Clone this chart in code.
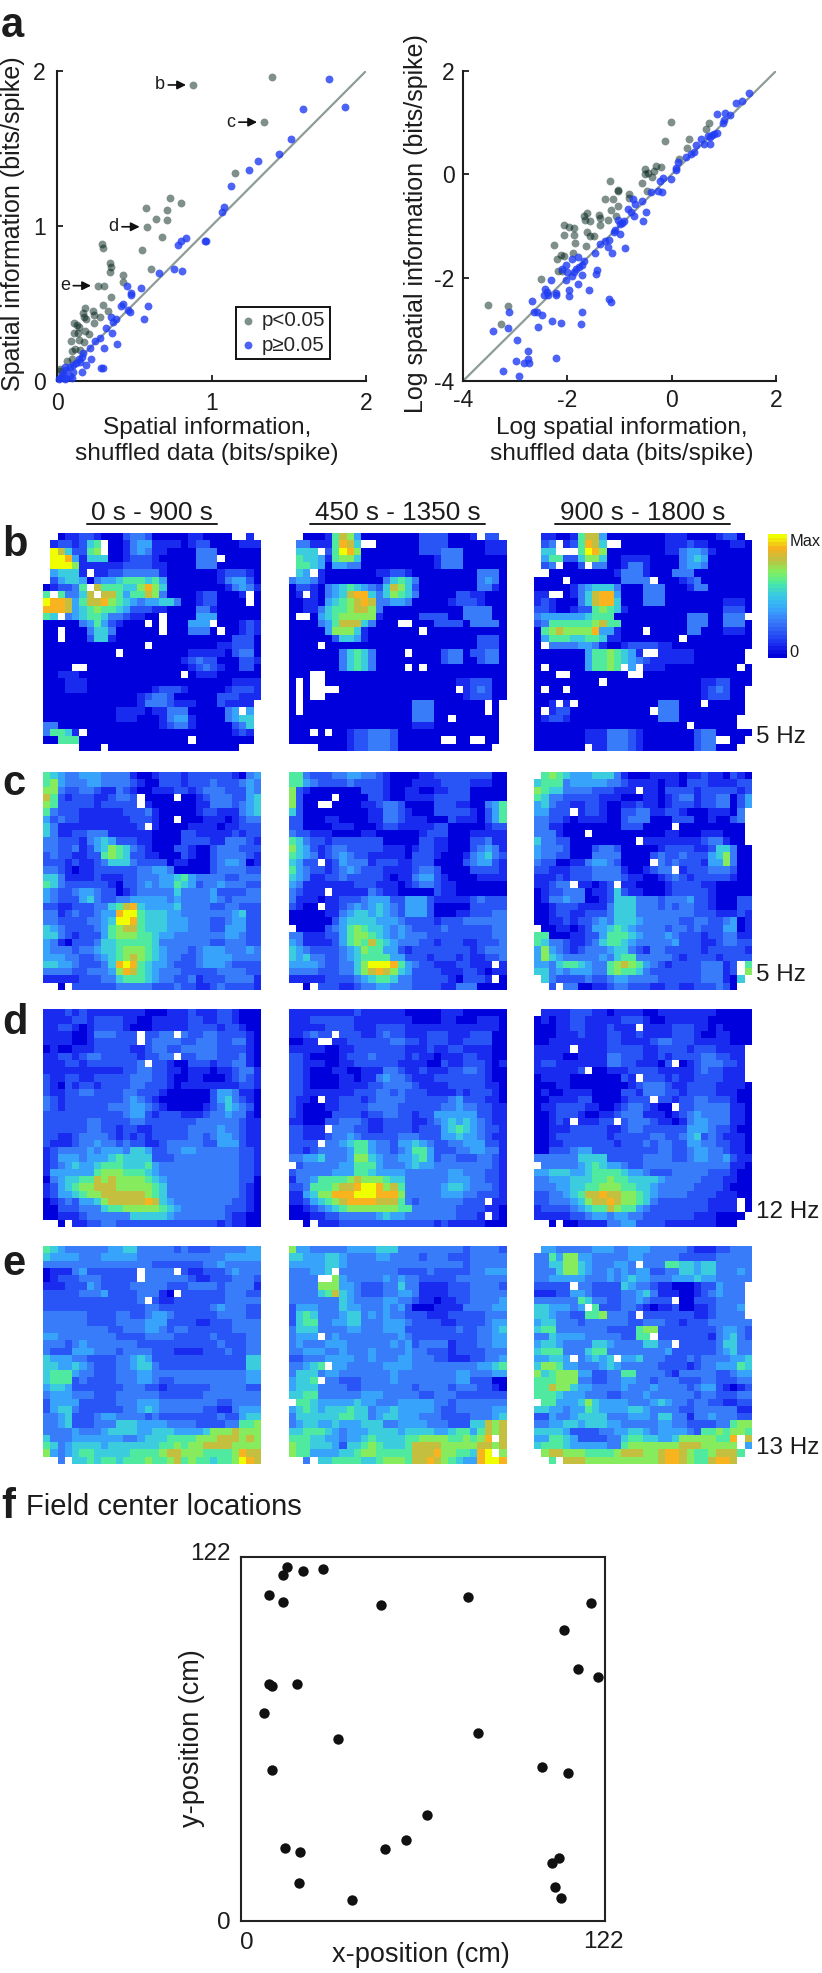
import numpy as np, pandas as pd, matplotlib
matplotlib.use('Agg')
import matplotlib.pyplot as plt, seaborn as sns
from matplotlib.colors import LinearSegmentedColormap
from matplotlib.lines import Line2D
from matplotlib.transforms import Affine2D

# ---------- data: panel a, linear ----------
a1_sig_x = [.88,1.39,1.34,1.15,.73,.80,.575,.71,.64,.71,.58,.68,.55,.61,.29,.30,.345,.35,.34,.425,.425,.265,.305,.35,.295,.33,.18,.17,.23,.24,.28,.175,.19,.24,.11,.13,.14,.11,.135,.18,.205,.09,.14,.175,.095,.115,.15,.065,.095,.02,.02]
a1_sig_y = [1.91,1.96,1.67,1.34,1.18,1.15,1.115,1.10,1.045,1.04,.995,.93,.845,.72,.885,.86,.76,.735,.70,.685,.64,.615,.615,.54,.49,.45,.47,.44,.45,.425,.41,.41,.40,.375,.375,.36,.35,.31,.31,.32,.305,.255,.265,.25,.195,.205,.20,.13,.145,.08,.065]
a1_ns_x = [1.76,1.59,1.865,1.515,1.435,1.30,1.245,1.125,1.08,1.07,.96,.965,.835,.80,.78,.66,.755,.81,.545,.455,.48,.48,.425,.415,.46,.59,.475,.565,.35,.38,.365,.32,.355,.39,.28,.245,.215,.305,.17,.16,.14,.22,.19,.285,.295,.16,.105,.085,.05,.06,.105,.04,.085,.02,.05,.095,.01,.15,.12,.03,.06]
a1_ns_y = [1.95,1.755,1.77,1.56,1.465,1.42,1.36,1.26,1.125,1.09,.905,.905,.92,.90,.88,.695,.72,.71,.60,.61,.57,.555,.495,.485,.46,.485,.445,.40,.415,.40,.38,.34,.31,.24,.28,.26,.215,.215,.18,.155,.145,.145,.105,.085,.085,.06,.10,.09,.09,.07,.055,.05,.03,.02,.015,.02,.01,.125,.115,.03,.02]
# ---------- data: panel a, log ----------
a2_sig_x = [-.01,-.12,.71,.65,.33,.30,.15,-.2,-.3,-.34,-.38,-.45,-.52,-.52,-.57,-.48,-1.18,-1.02,-1.03,-.82,-.82,-1.28,-1.13,-1.02,-1.17,-1.06,-1.39,-1.37,-1.37,-1.22,-1.62,-1.68,-1.66,-1.56,-1.63,-1.56,-1.48,-1.65,-2.07,-1.96,-1.87,-2.07,-1.87,-1.86,-1.89,-2.25,-2.12,-2.07,-2.19,-2.17,-2.11,-2.5,-3.53,-3.13,-3.28]
a2_sig_y = [1.02,.65,1.0,.87,.675,.515,.29,.15,.17,.07,-.06,.03,.11,.01,-.17,-.33,-.13,-.30,-.33,-.38,-.45,-.48,-.48,-.62,-.70,-.80,-.79,-.84,-.98,-.88,-.75,-.80,-.89,-.91,-1.12,-1.19,-1.19,-1.38,-.98,-1.02,-1.04,-1.18,-1.18,-1.33,-1.52,-1.37,-1.56,-1.59,-1.64,-1.87,-1.87,-2.03,-2.52,-2.55,-2.89]
a2_ns_x = [1.49,1.35,1.24,1.11,1.03,.86,1.0,.98,.87,.82,.78,.74,.69,.73,.62,.56,.46,.42,.37,.27,.12,.08,.08,-.02,-.16,-.23,-.19,-.27,-.39,-.57,-.7,-.75,-.83,-.78,-.72,-.5,-.55,-.91,-.96,-1.02,-1.0,-1.08,-1.11,-1.0,-1.21,-1.27,-1.37,-1.22,-.9,-1.14,-1.47,-1.91,-1.8,-1.68,-1.71,-1.77,-1.84,-1.87,-2.02,-2.11,-2.0,-1.91,-1.72,-1.44,-1.45,-2.02,-2.31,-1.79,-1.59,-1.97,-1.96,-2.21,-2.21,-2.43,-2.39,-2.37,-2.44,-2.67,-1.2,-1.17,-3.12,-2.64,-2.59,-2.49,-1.72,-1.73,-2.12,-2.3,-2.57,-3.13,-3.43,-2.97,-2.75,-2.21,-2.75,-2.98,-2.84,-2.73,-3.24,-2.93]
a2_ns_y = [1.58,1.42,1.38,1.14,1.18,1.16,1.06,1.0,.80,.79,.76,.73,.74,.59,.58,.68,.57,.44,.39,.34,.23,.12,.08,-.10,-.08,-.12,-.34,-.33,-.35,-.51,-.57,-.48,-.68,-.73,-.8,-.72,-.9,-.9,-.94,-.88,-.96,-1.07,-1.12,-1.16,-1.27,-1.3,-1.35,-1.4,-1.43,-1.52,-1.52,-1.63,-1.6,-1.68,-1.75,-1.8,-1.84,-1.9,-1.76,-1.83,-1.9,-1.97,-1.94,-1.85,-1.93,-2.04,-2.04,-2.12,-2.23,-2.24,-2.35,-2.29,-2.34,-2.22,-2.28,-2.33,-2.33,-2.46,-2.42,-2.47,-2.66,-2.66,-2.66,-2.72,-2.67,-2.9,-2.88,-2.84,-2.96,-2.97,-3.04,-3.21,-3.42,-3.55,-3.57,-3.62,-3.65,-3.65,-3.81,-3.9]
annot_labels = ['b','c','d','e']
annot_x = [.88,1.34,.58,.265]
annot_y = [1.91,1.67,.995,.615]
# ---------- data: panel f ----------
f_x = [15.5,14.2,20.9,27.4,9.3,14.1,46.9,76,117.3,108.4,113,119.8,9.5,10.4,18.8,7.7,32.6,79.6,10.4,100.8,109.5,62.2,55.2,48.1,14.6,19.9,106.5,104.4,19.3,105.1,107.2,37.3]
f_y = [118.7,116,117.3,118,109.2,107,106,108.5,106.6,97.4,84.6,81.7,79.6,78.6,79.3,69.7,61.1,62.9,50.7,51.6,49.5,35.6,27,24.1,24.4,23.2,21.1,19.3,12.7,11.3,7.7,7]
# ---------- data: firing-rate maps, 0..a = fraction of max in tenths, . = unvisited ----------
b1 = ["..011 22100 02332 00000 11000 0..1.",".1221 256.0 01344 11110 12200 00111",".a852 267.0 01343 11000 03330 00000",".aa94 15550 01222 10000 0333. 00000",".aaa7 11111 12222 11000 03330 00000",".4555 1.112 23333 31000 00001 22210",".2455 40344 56665 64000 00001 34420","01223 6.866 65579 75000 00000 13431","6.633 58.88 64668 73000 01220 001.0","a9984 68897 65434 45530 01220 000.0",
"99984 56766 54222 11000 03310 00000","65.34 56653 32110 0.000 04440 00000","00000 34642 1000. 0.000 444.0 00121","00.00 03553 00000 0.000 3330. 00121","00.00 02551 00000 00000 00000 02220","00000 00000 0000. 00000 00001 12220","00000 00000 .0000 00000 11111 02330","00000 00000 00000 00001 23220 00221","0000. .0000 00000 00000 12321 00220","00111 00000 00000 0000. 01110 00000",
"00011 10000 00000 00000 00000 01111","00011 10000 00000 12221 00000 12221","00000 00000 00012 33200 00002 22111","00000 00000 00013 33211 10002 1111.","00000 00000 11110 11333 00000 34.4.","00000 00000 11100 01344 10000 3455.","33000 00000 00000 01233 10000 0235.","36651 .0000 00000 00000 00000 0121.","00666 00000 00000 00000 .0000 0000.","..... 000.0 00000 00000 00000 00..."]
b2 = ["..000 16874 00000 00022 22000 1.22.",".3311 16985 ..000 00022 22000 00111",".555. 26a97 00000 00022 23330 00111",".6554 16775 00000 00000 13330 00000",".6654 04433 00000 00000 13330 00000",".54.1 00000 00112 21000 00000 03330","34431 00000 00035 65300 00000 03430","02210 34565 43258 75200 00000 03310","01.10 34589 95357 65300 00022 11000","00110 45678 98334 43000 00122 21000",
"00113 56678 87300 00000 00003 33300","0..04 56777 77100 00022 22003 33300","00003 46888 53000 ..000 22220 33330","00000 47775 10000 000.0 00000 00000","00000 02554 10000 00000 00000 02220","0000. 00000 00000 00000 00000 02220","00000 00356 53000 0.000 02330 22330","00000 00356 53000 00000 02330 02330","00000 00356 53000 0.0.0 00000 00000","000.. 00000 00000 00000 00000 00000",
"0.0.. 00000 00000 00000 00011 22200","0.0.. ..000 00000 00000 000.1 23200","0.0.. 00000 00000 00000 00001 22200","0.000 00000 00000 00333 00000 00.0.","0.000 00000 00000 00333 00000 00.0.","00000 00000 00000 00333 00.00 0000.","00000 00000 00000 00111 00000 0000.","000.0 .0012 23332 00000 00000 0000.","00000 00012 23332 00000 0..00 ..00.","....0 00012 23332 00000 00000 000.."]
b3 = [".1100 16884 00000 00011 10000 1220.",".23.1 26985 ..000 00011 12110 00110",".55.. .6a97 00000 00011 34431 00000",".4662 25775 00111 10000 34540 00000",".23.0 02.33 00133 10000 34430 00000","..000 00000 01333 10003 33000 00000","0000. 00000 00333 3.000 12300 00000","00000 13455 53000 33300 01330 00000","11..0 13589 94000 33300 00000 00000","12100 03589 95000 33300 00000 01110",
"22100 12267 65100 00000 00000 02220","34444 44566 60000 00000 03330 0333.","23666 66678 66000 00000 03330 03330","06787 77794 41000 .0000 03300 01110","04666 55665 11000 00000 .0000 00000","0.333 34431 00122 22110 00000 00000","00000 00466 76541 ..111 11000 0000.","00000 00466 76543 21111 11000 0000.","0.000 00466 76.4. 11100 00000 000.0","000.. 00000 000.. 00000 00000 00000",
"00000 0000. 00000 00000 00011 22000","0.00. 00000 00000 00000 00012 3200.","00000 00000 00000 00000 00012 2200.","001.1 .0000 00000 00333 000.0 0000.","0.122 00000 00000 0.333 00000 0000.","01221 00000 00000 00333 00000 000..","00000 00000 00000 00000 0.000 000..","00000 00111 33321 00000 00233 00000","00000 00111 33321 00000 00233 ..00.","00000 00.11 33321 00000 00233 000.."]
c1 = ["65433 44433 33100 12221 22222 21034","67433 34433 33210 02221 22232 22343","77322 33211 32100 11122 12333 22243","86212 22112 332.0 000.0 01233 32245","76222 22122 222.1 00000 01133 32345","63222 11111 12223 10000 01221 11345","42322 11111 11222 100.0 00111 01233","53111 11111 1112. 10000 11110 11222","53112 23331 11111 00002 21111 12122","33222 13454 22211 00002 22211 33321",
"33223 12457 65321 00022 10023 33222","23221 12267 65221 10002 10023 33321","22212 11235 55322 22011 00023 44301","33210 11222 22233 44300 00023 33322","55311 11211 12233 34456 43333 22333","65322 22221 02234 34465 42334 33322","43223 44322 01233 33353 33342 22233","43222 45322 33444 44343 33343 23333","22112 22335 68954 44453 33322 33222","33123 22344 9aa65 55443 33333 34522",
"33222 23345 aa965 55444 33322 34422","54322 22346 78865 55444 33322 44422","55321 22246 77766 54433 33333 44322","43102 22355 66666 53333 33322 33322","43332 33455 67776 54333 23444 33343","44433 22345 67876 54332 23444 43333","55443 22235 9a965 44322 23444 32222","33332 23334 79865 43332 22223 33322","11111 22233 56665 43322 31222 33331","..0.2 22222 33333 22232 21123 22221"]
c2 = ["66322 23344 33210 00011 22222 22200","66432 22232 22210 00111 12222 11100","72100 00000 22210 01100 11222 00000","72000 0.000 02210 01111 22222 00000","7200. .0000 11233 20000 22211 00346","52000 00000 01133 21000 22222 10246","22000 11000 01133 21110 00211 10246","22000 01110 00122 11111 22000 00122","32211 10000 11000 00012 22000 11111","65322 12222 22200 00022 11000 22311",
"75421 23322 22211 10122 11000 23431","65431 23432 21111 10222 10001 34532","5422. 12433 31222 11222 00002 34421","64322 12343 22211 11233 20000 22221","54311 22322 22210 11344 21000 01111","43111 11112 22111 01233 21100 00000","32111 .1111 13211 00000 21100 00000","31110 11222 34442 24442 11111 23222","2100. 11234 34543 24442 00000 22222","00000 11345 54543 24442 00011 22233",
"00000 02455 55444 32222 12223 33333",".0000 23467 65543 43222 23222 22233","33111 22467 76543 43332 22222 22233","43111 12467 68654 33322 12221 12223","54322 22345 76644 21222 22222 12333","54533 22345 66664 42221 22212 11223","44443 22335 7aaa9 64322 11122 111.1","33332 22335 78987 54222 21112 21011","11111 22223 45665 33222 22102 221.0","..0.2 22112 33443 33222 21133 30000"]
c3 = [".6765 44455 53100 01111 01121 10210","56663 44444 33211 11011 02221 11122","76553 33322 2111. 11022 22122 22212","65332 22221 11000 11012 33122 33024","45322 11221 00112 11012 22122 33024","44222 .1221 00223 31122 10001 1103.","33221 01111 00233 30002 22001 0023.","33110 00000 00222 0000. 00000 0000.","33310 00.00 00000 00011 00011 1000.","53322 00000 0000. 11111 11123 3100.",
"43332 00023 32000 00122 22112 55300","43322 00033 33000 02322 32224 57300","32200 11344 32000 0.323 22214 47300","22111 22233 33100 1233. 12223 33200","11121 22233 33211 00123 21222 22100","11233 .1101 2.110 00012 22211 00000","01223 33011 25211 00012 22221 00000","01334 33001 25553 33233 34221 00022","00122 21111 35553 33232 33221 00022","00122 11222 35553 33333 33222 11121",
"00112 12234 35554 33333 22332 23401",".0011 01244 56543 33323 32322 24401","66000 11224 66654 33343 22212 23311","65332 11235 66543 33334 22211 23322","47432 12333 45532 13322 22212 22221","47543 33334 35663 33332 12222 12222","44356 65433 67876 43212 22233 312.6","55343 44433 67665 32222 22233 312.7",".5322 22322 34433 33222 22233 3105.","..2.3 30011 23322 21122 11222 320.."]
d1 = ["11121 21111 11110 00111 21112 21000","11112 21222 21100 11111 22112 21000","11221 01222 21000 11111 22221 22100","11110 01333 222.2 233.3 22332 22210","11110 01222 222.2 33332 23332 23310","01001 11222 22112 33223 33332 22210","11221 23322 22212 233.2 23332 22310","11122 12222 2223. 22100 22212 23310","11111 11111 12233 22110 11101 12331","21122 11222 22333 22100 11000 12321",
"21021 22122 22332 22101 11111 11221","21122 33222 23322 21000 00024 43110","32122 22222 23432 10000 00024 53210","32122 22223 33443 21000 00123 54320","22222 22222 23442 12221 11233 43310","22222 23322 22332 22222 23333 33211","22222 23322 12211 22222 33334 33211","22112 33332 12121 22222 33234 43211","21112 33433 23221 12333 33224 44211","12333 34344 43554 22334 43333 33221",
"12444 34445 65555 22233 33333 33221","12345 44566 65556 43333 33333 33221","14444 44677 76665 43333 33333 33221","03455 66878 77776 54333 33333 33220","12456 77888 77777 65333 33333 33210","12445 67788 88887 65333 33333 33210","01232 44578 88889 85433 33333 32210","00222 33356 67777 76543 33333 22210","00111 23333 33555 55433 33333 21100","..0.1 12233 22222 22222 22221 21100"]
d2 = ["11111 11112 11111 10000 01110 00000","11122 22221 11111 11000 01100 01110","11111 22221 11222 21111 11111 11110","11232 2.222 11232 21112 22111 22200","0011. .1122 22223 32212 22112 22200","11111 00112 22222 21112 11221 11100","22100 00122 23222 21211 01112 21100","22111 00112 22222 11110 02112 22101","22100 01100 11133 21121 11223 32100","22100 00110 11343 32111 22222 22100",
"22100 00111 12233 33211 11222 22110","22111 11112 22332 32221 11121 22210","2110. 11222 12333 32222 22342 22110","21000 11222 23333 22222 23343 32211","21000 02222 12233 22122 44444 42211","11000 22333 21122 22112 34545 43211","22111 .3332 21122 22122 24565 43221","22111 23343 22222 33322 24454 43211","2222. 33456 64332 44543 22334 44221","22123 33346 64332 34664 22233 44331",
"33445 33347 75433 44564 23322 23321",".2333 33446 66433 34544 33333 33321","23333 34446 65444 43333 33443 33221","13346 66678 77765 53333 33444 33221","22366 67889 aa978 63333 34554 33321","11457 7999a aa999 73333 34443 32221","11245 67899 99888 63233 33332 22.11","00123 45677 77777 66333 33322 22110","00011 22333 33454 43333 33322 21.10","..0.1 11222 22222 22222 12111 11000"]
d3 = [".1111 22211 01111 00111 11111 00000","01011 22111 11222 10011 11110 00000","00011 22111 2111. 11112 22110 10000","00011 12111 22112 11112 22100 11000","00111 11111 22111 12332 22111 11000","11111 .1111 22222 11222 21222 1111.","11110 01111 33222 11212 22233 2211.","12211 11111 33221 1102. 01233 3221.","11111 12.00 11122 22111 11232 2111.","01111 00000 0021. 22212 11222 2111.",
"00011 00000 00012 33321 12222 11110","01001 11100 00221 33322 12222 11100","00111 12200 00122 2.221 22332 22100","01122 22110 01233 2100. 22333 33110","00122 21001 12333 11101 23433 33110","00121 .1112 2.233 32110 13443 33110","00111 22222 11233 22222 24443 22100","00122 22222 12222 23322 34523 21110","00112 22222 21222 32332 24433 22110","00222 34422 22222 22332 23443 32110",
"33333 35555 22222 33332 23443 34211",".3333 34565 44322 33333 33333 33110","44555 44566 66544 32223 33332 22100","33444 55566 76655 55433 33322 21100","33344 55667 77665 54333 33222 21000","22334 56889 88776 54333 32222 11100","22333 45788 98776 53222 22221 111.0","12222 34566 87664 32222 22221 111.0","11111 22344 34433 22222 22111 0000.","..0.0 01111 33442 22211 11111 000.."]
e1 = ["65433 33334 45533 33323 22233 33344","54444 33344 44433 33333 33333 44444","33333 33333 33333 22222 22334 33333","01113 42222 222.3 333.2 11222 34333","01222 33322 222.3 33333 21122 23332","11122 24322 22333 33222 33332 33331","22222 33342 22233 310.2 22222 33322","22222 22222 2223. 21122 22222 33333","22222 22222 22223 32222 22234 33322","33333 32222 33223 44322 22223 33322",
"33333 32222 33334 44222 21122 23333","33333 33332 23334 43233 22222 23333","44333 33333 22223 33322 22232 22233","33323 43333 33322 22222 22223 22233","32224 44333 23333 22211 11222 32233","54443 32222 33454 22222 22222 22255","55445 43222 33455 32222 22222 22255","56664 33222 33344 33333 33333 33344","56662 32222 33344 32233 33333 33344","45542 22222 23332 21222 22233 33322",
"34443 33222 33333 32222 22333 33333","24444 22222 33344 43333 33332 23333","24553 22222 23345 43333 33221 13444","33452 22344 33332 32222 22223 22455","33452 22333 55544 44333 32222 33667","33334 33345 55544 55544 44577 78777","53334 44444 43345 55666 67778 88787","65345 55545 55555 56676 77888 87777","74345 66555 55666 67887 77666 67988","..3.5 56566 56667 66786 76656 67a98"]
e2 = ["74433 33344 44555 33333 33332 33332","55444 55433 33443 33323 33222 33333","44444 55433 33333 33333 33332 33333","33344 5.333 33333 22223 22222 33444","3333. .7433 33343 43322 22233 33333","33337 77443 22233 53311 11222 33332","33335 68543 22233 44311 11222 33333","33333 33543 33344 33211 01122 33334","24443 33544 33343 42000 11113 33344","25653 33455 34343 32221 11222 22333",
"25663 34455 33344 43222 21122 22344","35553 33344 33344 42222 22232 23345","3444. 34333 33333 43222 22222 23344","34333 44433 33334 34233 33122 23344","33444 33433 34333 34332 22122 22333","22333 44443 34333 44333 22111 22334","33456 .4433 33344 44333 33333 34456","35553 44333 33334 33333 33344 33344","4556. 33222 33334 33333 33344 22200","45553 33322 33333 33233 33233 32210",
"55663 33333 44433 33322 33322 22222",".6654 44445 44333 44444 33233 33333","45654 55565 53445 44444 32233 33344","35555 55665 53455 44433 32222 33345","34554 45444 55533 44443 33222 55878","55666 54344 45555 45555 44566 46878","66655 44344 56555 56677 77667 679.8","76655 54255 67655 56888 87777 78878","76644 44556 77666 66888 97766 59a.7","..3.5 56666 55677 76889 87654 49aa9"]
e3 = [".4433 33344 43344 43333 32111 22333","33647 74433 33344 33333 22222 33333","33557 75433 3443. 33366 55455 33333","33357 75433 43434 42233 55455 33343","33444 44333 43454 43334 44544 33333","22222 .3322 22543 32110 00122 4333.","11122 44322 22334 53111 00123 4333.","33333 36533 22334 3222. 00222 3333.","55444 34.62 22332 10112 00112 3334.","55433 22667 3332. 22222 22112 3333.",
"45533 32333 33322 33322 12223 33333","56633 33333 22226 77222 22222 34432","33544 44333 33226 6.222 22221 34532","45543 33355 43333 5533. 22222 35533","56663 33566 33333 33342 22222 34533","44554 .3454 5.445 33322 23233 33445","57764 43334 54333 33222 21233 44465","75677 74422 33663 33321 33333 22344","66677 73322 33443 32333 22233 22233","66877 54433 33433 34333 32344 21012",
"66654 44333 22333 43333 33233 22233",".6644 45754 44433 34543 32332 21122","55443 44654 44455 43333 22333 33311","22433 45555 33344 43553 31334 33322","33445 54555 44333 33443 32222 33677","55554 22223 34455 43444 43266 76776","44665 42222 33566 55445 77777 669.8","56665 44444 33677 77777 88877 777.4",".7887 77666 67888 77899 87667 8886.","..6.8 88777 77777 77899 87668 998.."]
map_rows = [[b1,b2,b3],[c1,c2,c3],[d1,d2,d3],[e1,e2,e3]]
titles = ['0 s - 900 s','450 s - 1350 s','900 s - 1800 s']
rate_labels = ['5 Hz','5 Hz','12 Hz','13 Hz']
row_letters = ['b','c','d','e']

# ---------- set-up ----------
sns.set_theme(style='white')
plt.rcParams['font.family'] = ['Liberation Sans','DejaVu Sans']
plt.rcParams['axes.unicode_minus'] = False
W,H = 822,1973
INK = '#1c1c1c'
fig = plt.figure(figsize=(W/100,H/100),dpi=100,facecolor='white')
px = Affine2D().scale(1/W,-1/H).translate(0,1)+fig.transFigure
def box(l,t,r,b): return fig.add_axes([l/W,1-b/H,(r-l)/W,(b-t)/H])
def ftext(x,y,s,**k):
    k.setdefault('color',INK); k.setdefault('ha','left'); k.setdefault('va','center')
    return fig.text(x/W,1-y/H,s,**k)
cmap = LinearSegmentedColormap.from_list('rate',[(0,'#0000DC'),(.1,'#1A2CF0'),(.2,'#2B58F6'),(.3,'#3A80FA'),(.4,'#38A8FA'),(.5,'#38C8E8'),(.6,'#48E8A8'),(.7,'#80F060'),(.8,'#C0C040'),(.9,'#F8B020'),(1,'#F0FF00')],N=32)

def scatter_panel(ax,sx,sy,nx,ny,lim,ticks):
    ax.plot(lim,lim,color='#8d9c98',lw=1.6,zorder=1)
    sns.scatterplot(x=sx,y=sy,color='#002119',s=32,alpha=.5,linewidth=0,ax=ax,zorder=2,clip_on=False,label='p<0.05')
    sns.scatterplot(x=nx,y=ny,color='#203cf4',s=32,alpha=.8,linewidth=0,ax=ax,zorder=3,clip_on=False,label='p≥0.05')
    ax.set_xlim(lim); ax.set_ylim(lim); ax.set_xticks(ticks); ax.set_yticks(ticks)
    ax.set_xticklabels([str(t) for t in ticks]); ax.set_yticklabels([str(t) for t in ticks])
    for s in ['top','right']: ax.spines[s].set_visible(False)
    for s in ['left','bottom']: ax.spines[s].set_linewidth(1.5); ax.spines[s].set_color(INK)
    ax.tick_params(direction='in',length=4,width=1.3,color=INK,labelsize=16.5,labelcolor=INK,left=True,bottom=True,pad=8)
    ax.patch.set_alpha(0)

# ---------- panel a ----------
ax1 = box(57,71,366,381)
scatter_panel(ax1,a1_sig_x,a1_sig_y,a1_ns_x,a1_ns_y,[0,2],[0,1,2])
h,l = ax1.get_legend_handles_labels()
ax1.legend(h,l,loc='center',bbox_to_anchor=(283,333),bbox_transform=px,frameon=True,fancybox=False,edgecolor='#111',framealpha=1,fontsize=14.8,handlelength=.7,handletextpad=.35,labelspacing=.25,borderpad=.22,borderaxespad=0).get_frame().set_linewidth(1.4)
ax1.set_xlabel('Spatial information,\nshuffled data (bits/spike)',fontsize=17.6,color=INK,va='center',linespacing=1.28)
ax1.xaxis.set_label_coords(207,441,transform=px)
ax1.set_ylabel('Spatial information (bits/spike)',fontsize=18,color=INK,va='center')
ax1.yaxis.set_label_coords(13,224,transform=px)
for lab,x,y in zip(annot_labels,annot_x,annot_y):
    ax1.annotate(lab,xy=(x,y),xytext=(-33,0),textcoords='offset pixels',ha='center',va='center',fontsize=13,color=INK,
                 arrowprops=dict(arrowstyle='-|>,head_width=.2,head_length=.4',color='#111',lw=1.2,shrinkA=0,shrinkB=5))
ax2 = box(463,71,776,381)
scatter_panel(ax2,a2_sig_x,a2_sig_y,a2_ns_x,a2_ns_y,[-4,2],[-4,-2,0,2])
ax2.get_legend().remove()
ax2.set_xlabel('Log spatial information,\nshuffled data (bits/spike)',fontsize=17.6,color=INK,va='center',linespacing=1.28)
ax2.xaxis.set_label_coords(622,441,transform=px)
ax2.set_ylabel('Log spatial information (bits/spike)',fontsize=18,color=INK,va='center')
ax2.yaxis.set_label_coords(416,224,transform=px)
ax2.tick_params(pad=6)
ftext(1,26,'a',fontsize=30,fontweight='bold')

# ---------- rate maps ----------
lefts = [43,288.5,534]
tops = [533,772,1009,1246]
underl = [(87,217),(310,485),(555,730)]
tc = [152,398,643]
for t,c,u in zip(titles,tc,underl):
    ftext(c,513,t,ha='center',fontsize=18.8)
    fig.add_artist(Line2D([u[0]/W,u[1]/W],[1-524/H,1-524/H],color=INK,lw=1.4))
im = None
for row,(panels,top) in enumerate(zip(map_rows,tops)):
    for rows,left in zip(panels,lefts):
        ax = box(left,top,left+218,top+218)
        arr = np.array([[np.nan if ch=='.' else (10 if ch=='a' else int(ch))/10 for ch in r.replace(' ','').ljust(30,'.')[:30]] for r in rows])
        sns.heatmap(arr,ax=ax,cmap=cmap,vmin=0,vmax=1,cbar=False,xticklabels=False,yticklabels=False,rasterized=True)
        im = ax.collections[0]
for lab,y in zip(row_letters,[545,784,1023,1264]):
    ftext(2,y,lab,fontsize=30,fontweight='bold')
for lab,y in zip(rate_labels,[737,975,1212,1448]):
    ftext(756,y,lab,fontsize=17.5)
cax = box(768,534,787,658)
cb = fig.colorbar(im,cax=cax,ticks=[.06,.95])
cb.ax.set_yticklabels(['0','Max'],fontsize=11.8,color=INK)
cb.ax.tick_params(length=0,pad=2)
cb.outline.set_visible(False)

# ---------- panel f ----------
axf = box(241,1557,605,1921)
sns.scatterplot(x=f_x,y=f_y,color='#111111',s=56,linewidth=0,ax=axf)
axf.set_xlim(0,122); axf.set_ylim(0,122)
axf.set_xticks([]); axf.set_yticks([])
for s in axf.spines.values(): s.set_linewidth(1.5); s.set_color('#222'); s.set_visible(True)
axf.set_xlabel('x-position (cm)',fontsize=19.5,color=INK,va='center')
axf.xaxis.set_label_coords(421,1955,transform=px)
axf.set_ylabel('y-position (cm)',fontsize=19.5,color=INK,va='center')
axf.yaxis.set_label_coords(192,1738,transform=px)
ftext(247,1943,'0',ha='center',fontsize=17.5); ftext(603,1942,'122',ha='center',fontsize=17.5)
ftext(231,1554,'122',ha='right',fontsize=17.5); ftext(231,1923,'0',ha='right',fontsize=17.5)
ftext(1,1507,'f',fontsize=30,fontweight='bold')
ftext(26,1507,'Field center locations',fontsize=21)
fig.savefig('out.png',dpi=100,facecolor='white')
